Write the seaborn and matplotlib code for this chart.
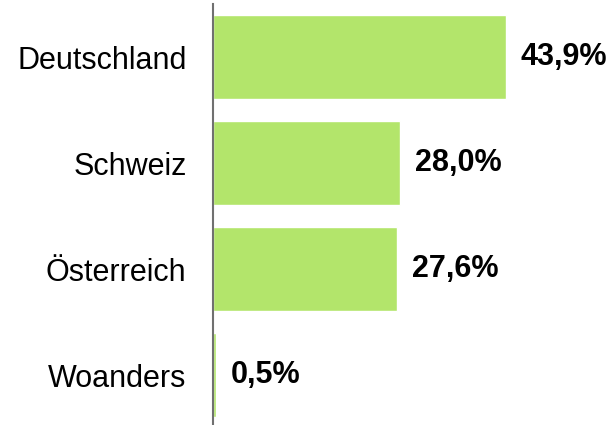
import matplotlib
matplotlib.use("Agg")
import matplotlib.pyplot as plt
import seaborn as sns
import pandas as pd

# ── DATA ─────────────────────────────────────────────────────
countries = ["Deutschland", "Schweiz", "Österreich", "Woanders"]
shares    = [43.9, 28.0, 27.6, 0.5]
labels    = ["43,9%", "28,0%", "27,6%", "0,5%"]

BAR_COLOR = "#b3e56b"

sns.set_theme(style="white")
plt.rcParams["font.family"] = ["Liberation Sans", "DejaVu Sans"]

df = pd.DataFrame({"country": countries, "share": shares})

fig = plt.figure(figsize=(6.12, 4.25), dpi=100)
ax = fig.add_axes([213 / 612, 0, 399 / 612, 421 / 425])

sns.barplot(data=df, y="country", x="share", orient="h", color=BAR_COLOR,
            saturation=1, width=0.79, ax=ax)

ax.set_xlim(0, 59.7)
ax.set_ylim(3.47, -0.5)

# value labels right of each bar
for i, (v, lab) in enumerate(zip(shares, labels)):
    ax.annotate(lab, xy=(v, i), xytext=(10.5, 0), textcoords="offset points",
                ha="left", va="center", fontsize=22, fontweight="bold",
                color="black")

ax.set_xlabel(""); ax.set_ylabel("")
ax.set_xticks([])
ax.tick_params(axis="y", length=0, pad=19, labelsize=22, labelcolor="black")
for side in ["top", "right", "bottom"]:
    ax.spines[side].set_visible(False)
ax.spines["left"].set_color("#707070")
ax.spines["left"].set_linewidth(1.5)

fig.savefig("out.png", dpi=100)
